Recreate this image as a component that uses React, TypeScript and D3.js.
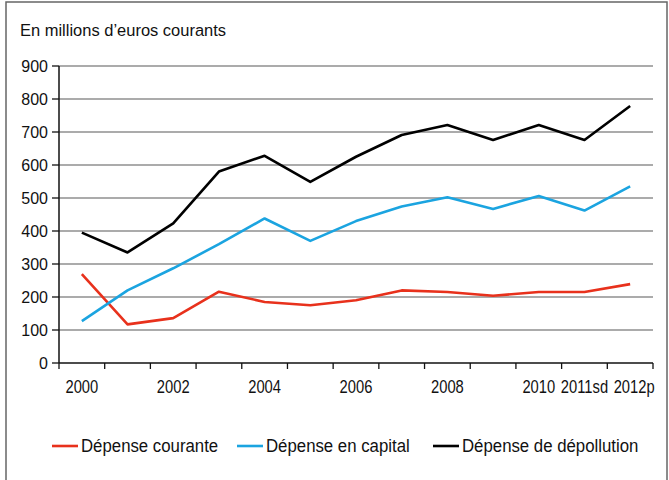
import React from "react";
import * as d3 from "d3";

const categories = ["2000","2001","2002","2003","2004","2005","2006","2007","2008","2009","2010","2011sd","2012p"];
const tickLabels = ["2000","","2002","","2004","","2006","","2008","","2010","2011sd","2012p"];
const courante = [269,117,136,216,185,175,190,220,215,204,215,215,239];
const capital = [127,220,287,360,438,370,430,474,502,467,506,462,535];
const depollution = [395,335,423,580,628,549,625,691,721,676,721,676,779];
const yTicks = [0,100,200,300,400,500,600,700,800,900];
const seriesNames = ["Dépense courante","Dépense en capital","Dépense de dépollution"];
const seriesColors = ["#e8311c","#1ba4e0","#000000"];

const W = 669, H = 480;
const L = 59, R = 653, T = 66, B = 363;
const sans = "'Liberation Sans', Arial, sans-serif";

export default function App() {
  const x = d3.scaleBand<string>().domain(categories).range([L, R]).padding(0);
  const y = d3.scaleLinear().domain([0, 900]).range([B, T]);
  const cx = (c: string) => (x(c) as number) + x.bandwidth() / 2;
  const line = d3.line<number>().x((_, i) => cx(categories[i])).y((d) => y(d));
  const data = [courante, capital, depollution];
  const legendX = [52, 237, 433];

  return (
    <div style={{ position: "absolute", left: 0, top: 0 }}>
      <svg width={W} height={H} style={{ display: "block" }}>
        <rect x={0} y={0} width={W} height={H} fill="#fff" />
        <rect x={6} y={2} width={661} height={500} fill="none" stroke="#666" strokeWidth={1.5} />
        <text transform="translate(20,36) scale(0.97,1)" fontFamily={sans} fontSize={17} fill="#111">En millions d’euros courants</text>
        {yTicks.filter((t) => t > 0).map((t) => (
          <line key={"g" + t} x1={L} x2={R} y1={y(t)} y2={y(t)} stroke="#8f8f8f" strokeWidth={1.6} />
        ))}
        {yTicks.map((t) => (
          <g key={"yt" + t}>
            <line x1={L - 7} x2={L} y1={y(t)} y2={y(t)} stroke="#111" strokeWidth={1.3} />
            <text x={L - 11} y={y(t) + 5.5} textAnchor="end" fontFamily={sans} fontSize={16} fill="#111">{t}</text>
          </g>
        ))}
        <line x1={L} x2={L} y1={T} y2={B} stroke="#111" strokeWidth={1.5} />
        <line x1={L} x2={R} y1={B} y2={B} stroke="#111" strokeWidth={1.5} />
        {categories.map((c) => (
          <line key={"xt" + c} x1={x(c) as number} x2={x(c) as number} y1={B} y2={B + 6} stroke="#111" strokeWidth={1.3} />
        ))}
        <line x1={R} x2={R} y1={B} y2={B + 6} stroke="#111" strokeWidth={1.3} />
        {categories.map((c, i) => (
          <text key={"xl" + c} transform={`translate(${cx(c) + (i === categories.length - 1 ? 4 : 0)},393) scale(0.82,1)`} textAnchor="middle" fontFamily={sans} fontSize={18} fill="#111">{tickLabels[i]}</text>
        ))}
        {data.map((s, k) => (
          <path key={"s" + k} d={line(s) || ""} fill="none" stroke={seriesColors[k]} strokeWidth={2.6} strokeLinejoin="round" />
        ))}
        {seriesNames.map((n, k) => (
          <g key={"lg" + k}>
            <line x1={legendX[k]} x2={legendX[k] + 26} y1={446} y2={446} stroke={seriesColors[k]} strokeWidth={2.6} />
            <text transform={`translate(${legendX[k] + 29},452) scale(0.96,1)`} fontFamily={sans} fontSize={17.5} fill="#111">{n}</text>
          </g>
        ))}
      </svg>
    </div>
  );
}
